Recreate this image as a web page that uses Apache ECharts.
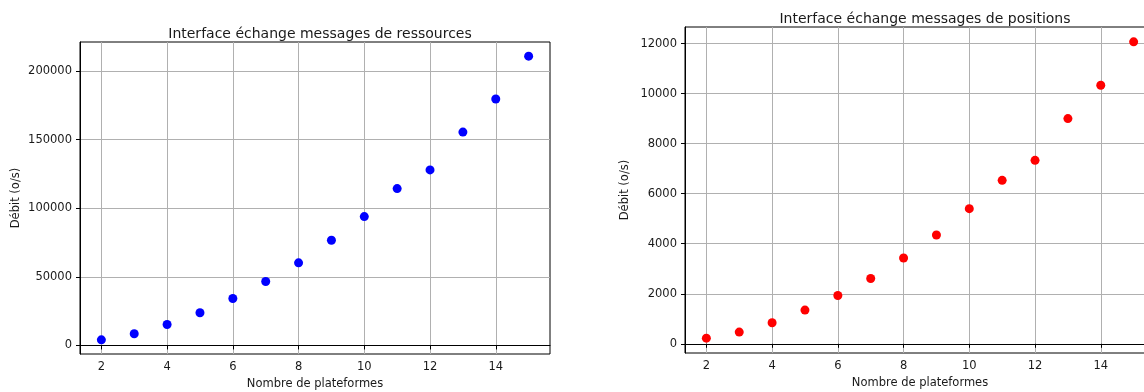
<!DOCTYPE html>
<html>
<head>
<meta charset="utf-8">
<script src="https://cdn.jsdelivr.net/npm/echarts@6/dist/echarts.min.js"></script>
<style>
html,body{margin:0;padding:0;background:#fff;overflow:hidden;}
#c{width:1144px;height:392px;}
</style>
</head>
<body>
<div id="c"></div>
<script>
const platforms = [2,3,4,5,6,7,8,9,10,11,12,13,14,15];
const debitRessources = [4100,8500,15300,23800,34200,46600,60200,76700,93900,114300,127900,155500,179600,210800];
const debitPositions = [225,468,840,1348,1932,2612,3428,4348,5400,6532,7332,9000,10332,12068];
const xTicks = [2,4,6,8,10,12,14];
const yTicksRessources = [0,50000,100000,150000,200000];
const yTicksPositions = [0,2000,4000,6000,8000,10000,12000];

const titles = ['Interface échange messages de ressources','Interface échange messages de positions'];
const xLabel = 'Nombre de plateformes';
const yLabel = 'Débit (o/s)';

const FONT = 'DejaVu Sans';
const txt = '#1a1a1a';

function pad(vals){const mn=Math.min(...vals),mx=Math.max(...vals),d=(mx-mn)*0.05;return [mn-d,mx+d];}
const xr = pad(platforms), yr1 = pad(debitRessources), yr2 = pad(debitPositions);

function xAxis(gi){
  return {
    type:'value', gridIndex:gi, min:xr[0], max:xr[1],
    name:xLabel, nameLocation:'middle', nameGap:23,
    nameTextStyle:{fontFamily:FONT,fontSize:11.5,color:txt},
    axisLine:{show:true,lineStyle:{color:'#000',width:1}},
    axisTick:{show:true,length:4,lineStyle:{color:'#000'},customValues:xTicks},
    axisLabel:{show:true,margin:7,fontFamily:FONT,fontSize:11.5,color:txt,customValues:xTicks,formatter:v=>String(v)},
    splitLine:{show:true,lineStyle:{color:'#b0b0b0',width:1}}
  };
}
function yAxis(gi,r,ticks,gap){
  return {
    type:'value', gridIndex:gi, min:r[0], max:r[1],
    name:yLabel, nameLocation:'middle', nameGap:gap, nameRotate:90,
    nameTextStyle:{fontFamily:FONT,fontSize:11.5,color:txt},
    axisLine:{show:true,lineStyle:{color:'#000',width:1}},
    axisTick:{show:true,length:4,lineStyle:{color:'#000'},customValues:ticks},
    axisLabel:{show:true,margin:8,fontFamily:FONT,fontSize:11.5,color:txt,customValues:ticks,formatter:v=>String(v)},
    splitLine:{show:true,lineStyle:{color:'#b0b0b0',width:1}}
  };
}

const chart = echarts.init(document.getElementById('c'),null,{renderer:'canvas'});
chart.setOption({
  animation:false,
  backgroundColor:'#fff',
  title:[
    {text:titles[0],left:315,top:22,textAlign:'center',textStyle:{fontFamily:FONT,fontSize:14,fontWeight:'normal',color:txt}},
    {text:titles[1],left:920,top:7,textAlign:'center',textStyle:{fontFamily:FONT,fontSize:14,fontWeight:'normal',color:txt}}
  ],
  grid:[
    {left:80,top:42,width:470,height:312,show:true,borderColor:'#000',borderWidth:1,backgroundColor:'transparent',containLabel:false,outerBoundsMode:'none'},
    {left:685,top:27,width:470,height:326,show:true,borderColor:'#000',borderWidth:1,backgroundColor:'transparent',containLabel:false,outerBoundsMode:'none'}
  ],
  xAxis:[xAxis(0),xAxis(1)],
  yAxis:[yAxis(0,yr1,yTicksRessources,58),yAxis(1,yr2,yTicksPositions,54)],
  series:[
    {type:'scatter',xAxisIndex:0,yAxisIndex:0,symbolSize:9,itemStyle:{color:'#0000ff',opacity:1},
     data:platforms.map((p,i)=>[p,debitRessources[i]])},
    {type:'scatter',xAxisIndex:1,yAxisIndex:1,symbolSize:9,itemStyle:{color:'#ff0000',opacity:1},
     data:platforms.map((p,i)=>[p,debitPositions[i]])}
  ]
});
</script>
</body>
</html>
